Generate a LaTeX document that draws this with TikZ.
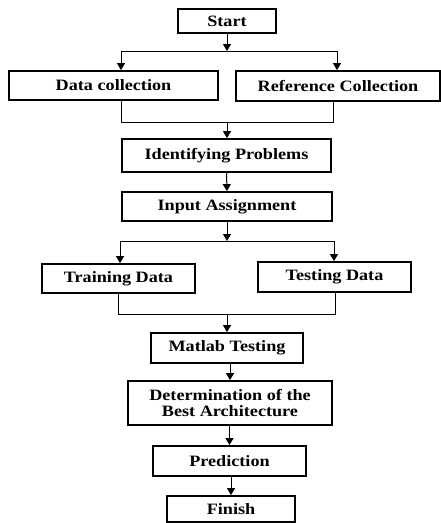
\documentclass[tikz,border=0pt]{standalone}
\usepackage{fontspec}
\setmainfont{Liberation Serif}[FakeStretch=1.15]
\usetikzlibrary{arrows.meta}
\begin{document}
\begin{tikzpicture}[x=1pt,y=-1pt,
  stepbox/.style={draw, line width=1.8pt, rectangle, inner sep=0pt,
    font=\fontsize{15.8}{16}\selectfont\bfseries, align=center},
  link/.style={line width=1pt},
  arr/.style={link, -{Triangle[width=8pt,length=7pt]}}]
\useasboundingbox (0,0) rectangle (441,523);

% process boxes
\node[stepbox, minimum width=98pt,  minimum height=24pt] (start)  at (227,21)    {Start};
\node[stepbox, minimum width=209pt, minimum height=29pt] (data)   at (113.5,85.5) {Data collection};
\node[stepbox, minimum width=204pt, minimum height=30pt] (ref)    at (338,86)    {Reference Collection};
\node[stepbox, minimum width=209pt, minimum height=33pt] (ident)  at (226.5,155.5) {Identifying Problems};
\node[stepbox, minimum width=210pt, minimum height=29pt] (input)  at (227,206.5) {Input Assignment};
\node[stepbox, minimum width=153pt, minimum height=29pt] (train)  at (118.5,278.5) {Training Data};
\node[stepbox, minimum width=153pt, minimum height=30pt] (test)   at (334.5,277) {Testing Data};
\node[stepbox, minimum width=152pt, minimum height=30pt] (matlab) at (227,348)   {Matlab Testing};
\node[stepbox, minimum width=204pt, minimum height=44pt] (determ) at (230,403)   {Determination of the\\Best Architecture};
\node[stepbox, minimum width=153pt, minimum height=30pt] (pred)   at (229.5,461) {Prediction};
\node[stepbox, minimum width=128pt, minimum height=26pt] (finish) at (231,509)   {Finish};

% split after Start
\coordinate (s1)  at (227,51);
\coordinate (s1l) at (121,51);
\coordinate (s1r) at (337,51);
\draw[arr] (start.south) -- (s1);
\draw[link] (s1l) -- (s1r);
\draw[arr] (s1l) -- (s1l |- data.north);
\draw[arr] (s1r) -- (s1r |- ref.north);

% merge into Identifying Problems
\coordinate (m1l) at (121,122);
\coordinate (m1r) at (333,122);
\coordinate (m1)  at (227,122);
\draw[link] (m1l |- data.south) -- (m1l) -- (m1r) -- (m1r |- ref.south);
\draw[arr] (m1) -- (m1 |- ident.north);

\draw[arr] (ident.south) -- (input.north);

% split after Input Assignment
\coordinate (s2)  at (227,241);
\coordinate (s2l) at (120,241);
\coordinate (s2r) at (334,241);
\draw[arr] (input.south) -- (s2);
\draw[link] (s2l) -- (s2r);
\draw[arr] (s2l) -- (s2l |- train.north);
\draw[arr] (s2r) -- (s2r |- test.north);

% merge into Matlab Testing
\coordinate (m2l) at (118,314);
\coordinate (m2r) at (335,314);
\coordinate (m2)  at (227,314);
\draw[link] (m2l |- train.south) -- (m2l) -- (m2r) -- (m2r |- test.south);
\draw[arr] (m2) -- (matlab.north);

% final chain
\draw[arr] (determ.north |- matlab.south) -- (determ.north);
\draw[arr] (pred.north |- determ.south) -- (pred.north);
\draw[arr] (finish.north |- pred.south) -- (finish.north);
\end{tikzpicture}
\end{document}
